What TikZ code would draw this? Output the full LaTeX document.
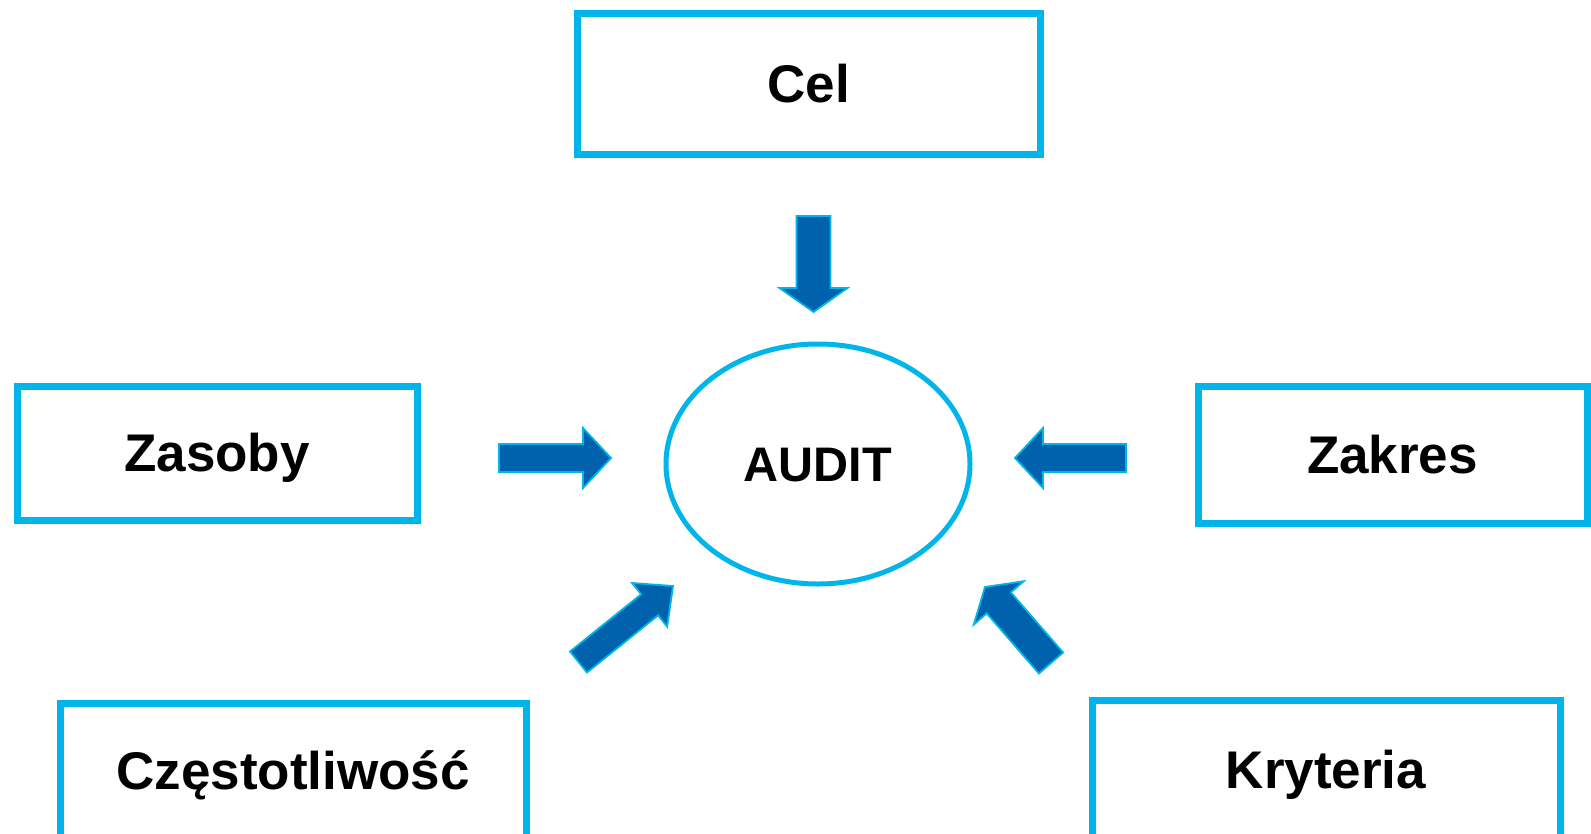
\documentclass[tikz,border=0pt]{standalone}
\usepackage{fontspec}
\setmainfont{Liberation Sans}
\usetikzlibrary{calc,shapes.geometric}
\definecolor{boxcyan}{HTML}{00B5E9}
\definecolor{arrowblue}{HTML}{0062AC}
\newcommand\blockarrow[5]{%
  \coordinate (#1-#2-base) at ($(#2)!#5!(#1)$);
  \draw[blockarr] ($(#1)!#3!90:(#2)$) -- ($(#1-#2-base)!#3!90:(#2)$)
    -- ($(#1-#2-base)!#4!90:(#2)$) -- (#2)
    -- ($(#1-#2-base)!#4!-90:(#2)$) -- ($(#1-#2-base)!#3!-90:(#2)$)
    -- ($(#1)!#3!-90:(#2)$) -- cycle;}
\begin{document}
\begin{tikzpicture}[x=1pt,y=-1pt,
  box/.style={draw=boxcyan,line width=7pt,fill=white,rectangle,inner sep=0pt,
    font=\fontsize{53}{60}\selectfont\bfseries,text height=37.9pt,text depth=0pt},
  blockarr/.style={fill=arrowblue,draw=boxcyan,line width=1.8pt,line join=miter}]
\useasboundingbox (0,0) rectangle (1591,833);
\clip (0,0) rectangle (1591,833);
\fill[white] (0,0) rectangle (1591,833);
% boxes
\node[box,minimum width=463pt,minimum height=141pt] (cel) at (808.5,84) {Cel};
\node[box,minimum width=400pt,minimum height=134pt] (zasoby) at (217,453) {Zasoby};
\node[box,minimum width=389pt,minimum height=137pt] (zakres) at (1392.5,455) {Zakres};
\node[box,minimum width=466pt,minimum height=136pt] (czest) at (293,771) {Częstotliwość};
\node[box,minimum width=468pt,minimum height=140pt] (kryt) at (1326,770) {Kryteria};
% ellipse
\node[draw=boxcyan,line width=5pt,ellipse,minimum width=304pt,minimum height=240pt,inner sep=0pt,
  font=\fontsize{48.5}{56}\selectfont\bfseries,text height=34.7pt,text depth=0pt] (audit) at (818,464) {AUDIT};
% arrow endpoints
\coordinate (a1t) at (813.5,216);
\coordinate (a1h) at (813.5,312);
\coordinate (a2t) at (499,458);
\coordinate (a2h) at (611,458);
\coordinate (a3t) at (1126,458);
\coordinate (a3h) at (1015,458);
\coordinate (a4t) at (578.5,662);
\coordinate (a4h) at (673,586);
\coordinate (a5t) at (1051,663);
\coordinate (a5h) at (985,587);
\blockarrow{a1t}{a1h}{17pt}{34pt}{24pt}
\blockarrow{a2t}{a2h}{14pt}{30pt}{28pt}
\blockarrow{a3t}{a3h}{14pt}{30pt}{28pt}
\blockarrow{a4t}{a4h}{13.5pt}{28pt}{30pt}
\blockarrow{a5t}{a5h}{16pt}{33pt}{21pt}
\end{tikzpicture}
\end{document}
